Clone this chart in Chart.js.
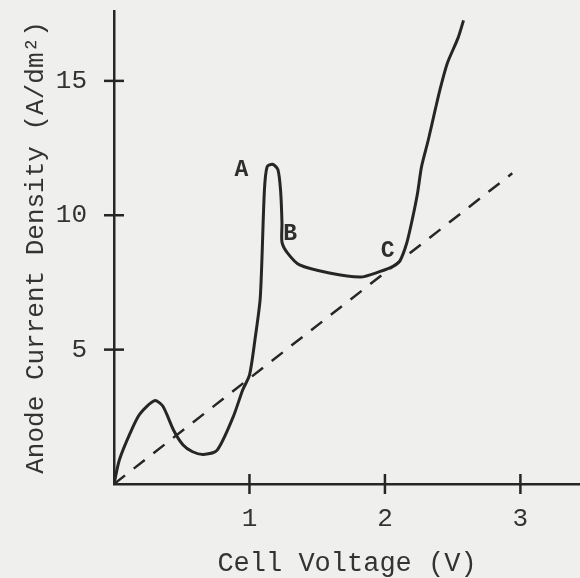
<!DOCTYPE html>
<html>
<head>
<meta charset="utf-8">
<script src="https://cdn.jsdelivr.net/npm/chart.js@4/dist/chart.umd.min.js"></script>
<style>
  html, body { margin: 0; padding: 0; background: #efefed; }
  canvas { display: block; }
</style>
</head>
<body>
<canvas id="myChart" width="580" height="578"></canvas>
<script>
// anode curve (V, A/dm2)
var voltage = [0, 0.04, 0.12, 0.19, 0.30, 0.36, 0.44, 0.51, 0.58, 0.66, 0.76, 0.88, 0.95, 1.00, 1.04, 1.08, 1.11, 1.13, 1.17, 1.21, 1.23, 1.24, 1.24, 1.28, 1.37, 1.59, 1.82, 1.96, 2.06, 2.11, 2.16, 2.20, 2.24, 2.27, 2.32, 2.37, 2.41, 2.46, 2.54, 2.58];
var current = [0, 0.9, 1.9, 2.6, 3.1, 2.9, 2.0, 1.45, 1.2, 1.1, 1.25, 2.5, 3.5, 4.05, 5.35, 6.95, 10.9, 11.8, 11.9, 11.7, 10.9, 9.7, 9.0, 8.6, 8.15, 7.85, 7.7, 7.9, 8.1, 8.3, 8.95, 9.8, 10.8, 11.8, 12.8, 13.9, 14.75, 15.65, 16.6, 17.25];

// dashed reference line
var refVoltage = [0, 2.94];
var refCurrent = [0, 11.56];

var xTicks = [1, 2, 3];
var yTicks = [5, 10, 15];

// point letters
var markText = ['A', 'B', 'C'];
var markVoltage = [0.94, 1.30, 2.02];
var markCurrent = [11.67, 9.3, 8.65];

var ink = '#262626';
var typeFont = "'Liberation Mono', 'DejaVu Sans Mono', monospace";

function toPoints(xs, ys) {
  return xs.map(function(x, i) { return {x: x, y: ys[i]}; });
}

// ticks drawn across the axis lines, and the A/B/C letters
var crossTicks = {
  id: 'crossTicks',
  afterDatasetsDraw: function(chart) {
    var ctx = chart.ctx;
    var xs = chart.scales.x, ys = chart.scales.y;
    var x0 = xs.getPixelForValue(0), y0 = ys.getPixelForValue(0);
    ctx.save();
    ctx.strokeStyle = ink;
    ctx.lineWidth = 2.5;
    xTicks.forEach(function(v) {
      var px = xs.getPixelForValue(v);
      ctx.beginPath();
      ctx.moveTo(px, y0 - 10);
      ctx.lineTo(px, y0 + 10);
      ctx.stroke();
    });
    yTicks.forEach(function(v) {
      var py = ys.getPixelForValue(v);
      ctx.beginPath();
      ctx.moveTo(x0 - 10, py);
      ctx.lineTo(x0 + 10, py);
      ctx.stroke();
    });
    ctx.fillStyle = '#2e2e2e';
    ctx.font = 'bold 23px ' + typeFont;
    ctx.textAlign = 'center';
    ctx.textBaseline = 'middle';
    markText.forEach(function(t, i) {
      ctx.fillText(t, xs.getPixelForValue(markVoltage[i]), ys.getPixelForValue(markCurrent[i]));
    });
    ctx.restore();
  }
};

var ctx = document.getElementById('myChart').getContext('2d');
var myChart = new Chart(ctx, {
  type: 'scatter',
  data: {
    datasets: [
      {
        data: toPoints(voltage, current),
        showLine: true,
        borderColor: ink,
        borderWidth: 3,
        pointRadius: 0,
        tension: 0.25,
        fill: false
      },
      {
        data: toPoints(refVoltage, refCurrent),
        showLine: true,
        borderColor: ink,
        borderWidth: 2.5,
        borderDash: [14, 11],
        pointRadius: 0,
        fill: false
      }
    ]
  },
  options: {
    responsive: false,
    animation: false,
    layout: { padding: { top: 11, right: 0, left: 0, bottom: 0 } },
    plugins: {
      legend: { display: false },
      tooltip: { enabled: false }
    },
    scales: {
      x: {
        type: 'linear',
        min: 0,
        max: 3.44,
        afterFit: function(s) { s.height = 94; },
        afterBuildTicks: function(s) { s.ticks = xTicks.map(function(v) { return {value: v}; }); },
        grid: { display: true, drawOnChartArea: false, drawTicks: true, tickLength: 16, tickColor: 'rgba(0,0,0,0)' },
        border: { display: true, color: ink, width: 2.5 },
        ticks: { color: '#333', padding: 4, font: { family: typeFont, size: 26 } },
        title: {
          display: true,
          text: 'Cell Voltage (V)',
          color: '#333',
          padding: { top: 0, bottom: 1 },
          font: { family: typeFont, size: 27, lineHeight: 1 }
        }
      },
      y: {
        type: 'linear',
        min: 0,
        max: 17.6,
        afterFit: function(s) { s.width = 114; },
        afterBuildTicks: function(s) { s.ticks = yTicks.map(function(v) { return {value: v}; }); },
        grid: { display: true, drawOnChartArea: false, drawTicks: true, tickLength: 23, tickColor: 'rgba(0,0,0,0)' },
        border: { display: true, color: ink, width: 2.5 },
        ticks: { color: '#333', padding: 4, font: { family: typeFont, size: 26, lineHeight: 0.01 } },
        title: {
          display: true,
          text: 'Anode Current Density (A/dm²)',
          color: '#333',
          padding: { top: 23, bottom: 0 },
          font: { family: typeFont, size: 26, lineHeight: 1 }
        }
      }
    }
  },
  plugins: [crossTicks]
});
</script>
</body>
</html>
